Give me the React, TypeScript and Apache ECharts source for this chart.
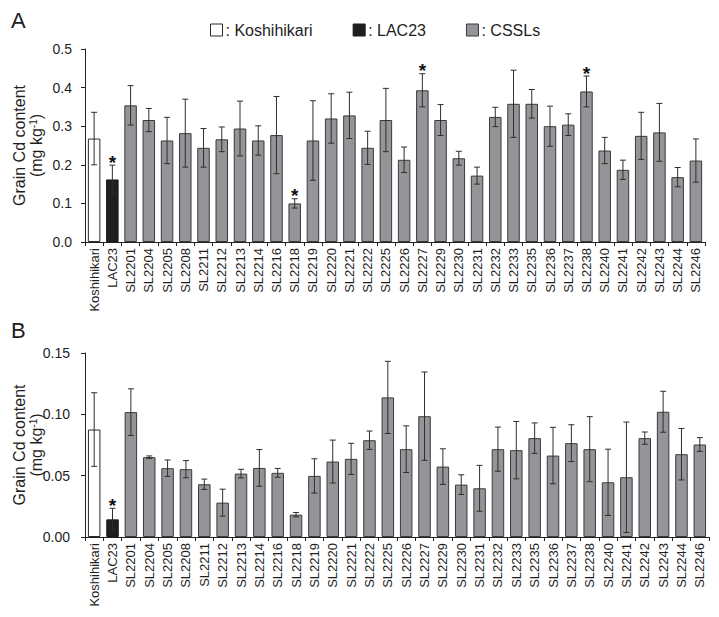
import React, { useEffect, useRef } from 'react';
import * as echarts from 'echarts';

const categories = ['Koshihikari', 'LAC23', 'SL2201', 'SL2204', 'SL2205', 'SL2208', 'SL2211', 'SL2212', 'SL2213', 'SL2214', 'SL2216', 'SL2218', 'SL2219', 'SL2220', 'SL2221', 'SL2222', 'SL2225', 'SL2226', 'SL2227', 'SL2229', 'SL2230', 'SL2231', 'SL2232', 'SL2233', 'SL2235', 'SL2236', 'SL2237', 'SL2238', 'SL2240', 'SL2241', 'SL2242', 'SL2243', 'SL2244', 'SL2246'];

const meanA = [0.268, 0.162, 0.354, 0.316, 0.263, 0.282, 0.244, 0.266, 0.294, 0.263, 0.277, 0.100, 0.263, 0.320, 0.328, 0.244, 0.316, 0.213, 0.393, 0.316, 0.217, 0.172, 0.324, 0.358, 0.358, 0.300, 0.304, 0.390, 0.237, 0.187, 0.275, 0.284, 0.168, 0.211];
const sdA = [0.068, 0.037, 0.051, 0.030, 0.060, 0.088, 0.050, 0.032, 0.071, 0.038, 0.100, 0.012, 0.103, 0.064, 0.060, 0.043, 0.082, 0.033, 0.043, 0.040, 0.018, 0.022, 0.025, 0.087, 0.037, 0.052, 0.028, 0.040, 0.034, 0.025, 0.061, 0.075, 0.025, 0.056];

const meanB = [0.0876, 0.0144, 0.1018, 0.0651, 0.0561, 0.0553, 0.0430, 0.0280, 0.0517, 0.0563, 0.0523, 0.0182, 0.0498, 0.0615, 0.0637, 0.0789, 0.1138, 0.0716, 0.0985, 0.0574, 0.0427, 0.0397, 0.0716, 0.0708, 0.0806, 0.0664, 0.0765, 0.0716, 0.0446, 0.0487, 0.0806, 0.1021, 0.0675, 0.0754];
const sdB = [0.030, 0.009, 0.019, 0.001, 0.0067, 0.007, 0.0042, 0.011, 0.0035, 0.015, 0.0036, 0.0018, 0.014, 0.0175, 0.0127, 0.0075, 0.0294, 0.019, 0.036, 0.0145, 0.008, 0.0187, 0.018, 0.0234, 0.0124, 0.023, 0.015, 0.0265, 0.027, 0.045, 0.005, 0.0167, 0.021, 0.0056];

const sigA = ['LAC23', 'SL2218', 'SL2227', 'SL2238'];
const sigB = ['LAC23'];

const groupNames = ['Koshihikari', 'LAC23', 'CSSLs'];
const groupOf = (c: string) => (c === 'Koshihikari' ? 'Koshihikari' : c === 'LAC23' ? 'LAC23' : 'CSSLs');

const FONT = '"Liberation Sans", Arial, Helvetica, sans-serif';
const TXT = '#1e1e1e';

const groupStyle: Record<string, any> = {
  Koshihikari: { color: '#ffffff', borderColor: '#2a2a2a', borderWidth: 1 },
  LAC23: { color: '#1f1f1f', borderColor: '#1a1a1a', borderWidth: 1 },
  CSSLs: { color: '#939598', borderColor: '#3a3a3a', borderWidth: 1 },
};

function errRender(params: any, api: any) {
  const x = api.value(0);
  const m = api.value(1);
  const s = api.value(2);
  const sig = api.value(3);
  const top = api.coord([x, m + s]);
  const bot = api.coord([x, m - s]);
  const hw = 3;
  const st = { stroke: '#2e2e2e', lineWidth: 1 };
  const children: any[] = [
    { type: 'line', shape: { x1: top[0], y1: top[1], x2: bot[0], y2: bot[1] }, style: st },
    { type: 'line', shape: { x1: top[0] - hw, y1: top[1], x2: top[0] + hw, y2: top[1] }, style: st },
    { type: 'line', shape: { x1: bot[0] - hw, y1: bot[1], x2: bot[0] + hw, y2: bot[1] }, style: st },
  ];
  if (sig) {
    children.push({
      type: 'text',
      style: { text: '*', x: top[0], y: top[1] - 3, align: 'center', verticalAlign: 'middle', fontSize: 19, fontWeight: 'bold', fontFamily: FONT, fill: '#111' },
    });
  }
  return { type: 'group', children };
}

function makeSeries(idx: number, means: number[], sds: number[], sig: string[]) {
  const bars = groupNames.map((g) => ({
    name: g,
    type: 'bar',
    xAxisIndex: idx,
    yAxisIndex: idx,
    barWidth: 12.5,
    barGap: '-100%',
    itemStyle: groupStyle[g],
    data: categories.map((c, i) => (groupOf(c) === g ? means[i] : '-')),
    z: 2,
  }));
  const err = {
    type: 'custom',
    xAxisIndex: idx,
    yAxisIndex: idx,
    renderItem: errRender,
    encode: { x: 0, y: 1 },
    data: categories.map((c, i) => [i, means[i], sds[i], sig.includes(c) ? 1 : 0]),
    z: 5,
  };
  return [...bars, err];
}

const axisNameRich = {
  a: { fontSize: 16, lineHeight: 17, fontFamily: FONT, color: TXT },
  s: { fontSize: 10, lineHeight: 11, verticalAlign: 'top', fontFamily: FONT, color: TXT },
};

function xAxis(idx: number) {
  return {
    type: 'category',
    gridIndex: idx,
    data: categories,
    axisLine: { lineStyle: { color: '#222', width: 1 } },
    axisTick: { show: true, length: 4, alignWithLabel: false, lineStyle: { color: '#222' } },
    axisLabel: { rotate: 90, interval: 0, fontSize: 13, color: TXT, fontFamily: FONT, margin: 6 },
  };
}

function yAxis(idx: number, max: number, interval: number, dec: number, margin: number) {
  return {
    type: 'value',
    gridIndex: idx,
    min: 0,
    max,
    interval,
    splitLine: { show: false },
    axisLine: { show: true, lineStyle: { color: '#222', width: 1 } },
    axisTick: { show: true, length: 4, lineStyle: { color: '#222' } },
    axisLabel: { fontSize: 14, color: TXT, fontFamily: FONT, margin, formatter: (v: number) => v.toFixed(dec) },
    name: '{a|Grain Cd content}\n{a|(mg kg}{s|-1}{a|)}',
    nameLocation: 'middle',
    nameRotate: 90,
    nameGap: 40,
    nameMoveOverlap: false,
    nameTextStyle: { rich: axisNameRich, align: 'center' },
  };
}

export default function App() {
  const ref = useRef<HTMLDivElement>(null);
  useEffect(() => {
    if (!ref.current) return;
    const chart = echarts.init(ref.current, undefined, { renderer: 'svg' });
    chart.setOption({
      animation: false,
      backgroundColor: '#ffffff',
      textStyle: { fontFamily: FONT },
      legend: {
        left: 205,
        top: 17,
        itemWidth: 12,
        itemHeight: 12,
        itemGap: 40,
        icon: 'rect',
        selectedMode: false,
        formatter: ': {name}',
        textStyle: { fontSize: 16, color: TXT, fontFamily: FONT, padding: [0, 0, 0, -2] },
        data: groupNames.map((g) => ({ name: g, itemStyle: groupStyle[g] })),
      },
      grid: [
        { left: 85, top: 49, width: 620, height: 193, outerBoundsMode: 'none', containLabel: false },
        { left: 85, top: 353, width: 624, height: 184, outerBoundsMode: 'none', containLabel: false },
      ],
      xAxis: [xAxis(0), xAxis(1)],
      yAxis: [yAxis(0, 0.5, 0.1, 1, 13), yAxis(1, 0.15, 0.05, 2, 15)],
      series: [...makeSeries(0, meanA, sdA, sigA), ...makeSeries(1, meanB, sdB, sigB)],
      graphic: [
        { type: 'text', left: 11, top: 9, style: { text: 'A', fontSize: 22, fontFamily: FONT, fill: TXT } },
        { type: 'text', left: 11, top: 319, style: { text: 'B', fontSize: 22, fontFamily: FONT, fill: TXT } },
      ],
    });
    return () => chart.dispose();
  }, []);
  return <div ref={ref} style={{ position: 'absolute', left: 0, top: 0, width: 719, height: 617 }} />;
}
